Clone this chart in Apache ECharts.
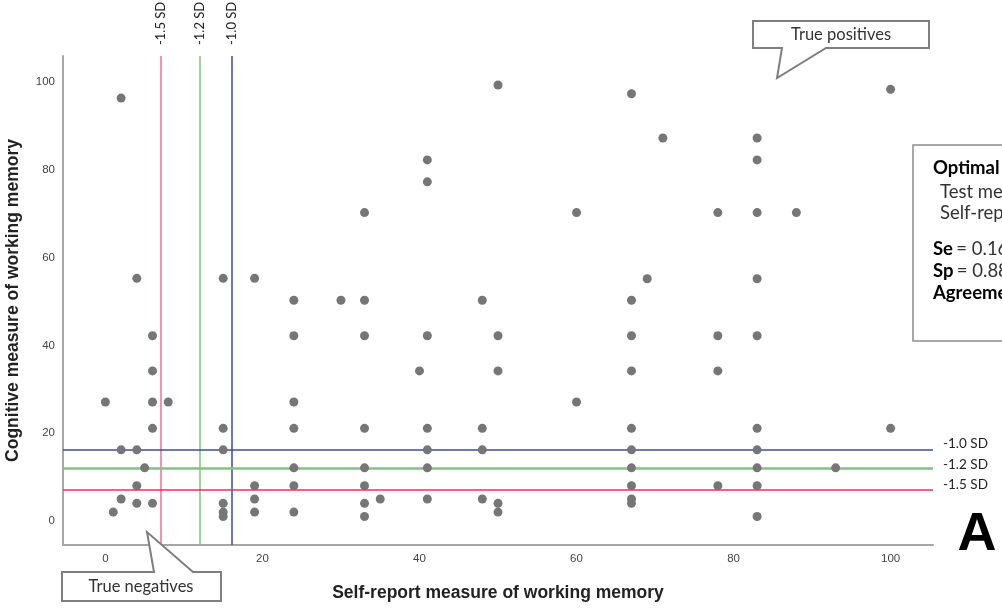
<!DOCTYPE html>
<html>
<head>
<meta charset="utf-8">
<script src="https://cdn.jsdelivr.net/npm/echarts@6/dist/echarts.min.js"></script>
<style>
  html, body { margin: 0; padding: 0; background: #fff; }
  #chart { width: 1002px; height: 608px; }
</style>
</head>
<body>
<div id="chart"></div>
<script>
// self-report (x) and cognitive (y) scores
const selfReport = [
  2, 4, 15, 19, 24, 30, 6, 24, 6, 0, 6, 8, 24, 6, 15, 24, 2, 4, 15, 5, 24, 4, 19, 24,
  2, 4, 6, 15, 19, 1, 15, 15, 19, 24,
  50, 67, 41, 41, 33, 60, 69, 33, 48, 67, 33, 41, 50, 67, 40, 50, 67, 60, 33, 41, 48, 67,
  41, 48, 67, 33, 41, 67, 33, 67, 33, 35, 41, 48, 50, 50, 67, 67, 33,
  100, 71, 83, 83, 78, 83, 88, 83, 78, 83, 78, 83, 100, 83, 83, 93, 78, 83, 83
];
const cognitive = [
  96.4, 55.3, 55.3, 55.3, 50.3, 50.3, 42.2, 42.2, 34.2, 27.1, 27.1, 27.1, 27.1, 21.1, 21.1, 21.1, 16.2, 16.2, 16.2, 12.1, 12.1, 8.0, 8.0, 8.0,
  5.0, 4.0, 4.0, 4.0, 5.0, 2.0, 2.0, 1.0, 2.0, 2.0,
  99.4, 97.4, 82.3, 77.3, 70.3, 70.3, 55.2, 50.3, 50.3, 50.3, 42.2, 42.2, 42.2, 42.2, 34.2, 34.2, 34.2, 27.1, 21.1, 21.1, 21.1, 21.1,
  16.2, 16.2, 16.2, 12.1, 12.1, 12.1, 8.0, 8.0, 4.0, 5.0, 5.0, 5.0, 4.0, 2.0, 5.0, 4.0, 1.0,
  98.4, 87.3, 87.3, 82.3, 70.3, 70.3, 70.3, 55.2, 42.2, 42.2, 34.2, 21.1, 21.1, 16.2, 12.1, 12.1, 8.0, 8.0, 1.0
];

// cut-off lines
const cutLabels = ['-1.5 SD', '-1.2 SD', '-1.0 SD'];
const cutColors = ['#e8305a', '#84c184', '#3a4d9c'];
const xCuts = [7.1, 12.0, 16.1];
const yCuts = [7.1, 12.1, 16.2];
// where the right-hand SD labels sit (spread apart a little in the original)
const yCutLabelPos = [8.2, 12.8, 17.5];

const xTicks = [0, 20, 40, 60, 80, 100];
const yTicks = [0, 20, 40, 60, 80, 100];

const points = selfReport.map((x, i) => [x, cognitive[i]]);

const chart = echarts.init(document.getElementById('chart'));

const tickFont = { fontFamily: 'Liberation Sans', fontSize: 11.5, color: '#444' };
const titleFont = { fontFamily: 'Liberation Sans', fontSize: 17.5, fontWeight: 'bold', color: '#222' };
const noteFont = 'Lato';
const boxSize = 18.5;

const markData = [];
xCuts.forEach((v, i) => {
  markData.push({ xAxis: v, lineStyle: { type: 'solid', color: i === 0 ? '#ef7090' : cutColors[i], width: 1.5 } });
});
yCuts.forEach((v, i) => {
  markData.push({ yAxis: v, lineStyle: { type: 'solid', color: cutColors[i], width: i === 1 ? 2.5 : 1.5 } });
});

const rich = {
  b: { fontFamily: noteFont, fontSize: boxSize, fontWeight: 'bold', fill: '#000' },
  n: { fontFamily: noteFont, fontSize: boxSize, fill: '#333' }
};

chart.setOption({
  animation: false,
  grid: { left: 63, right: 69, top: 56, bottom: 63, outerBoundsMode: 'none', containLabel: false },
  xAxis: [{
    type: 'value',
    min: -5.4,
    max: 105.4,
    name: 'Self-report measure of working memory',
    nameLocation: 'middle',
    nameGap: 39,
    nameTextStyle: titleFont,
    splitLine: { show: false },
    axisTick: { show: false },
    axisLine: { show: true, onZero: false, lineStyle: { color: '#a6a6a6', width: 2 } },
    axisLabel: { customValues: xTicks, margin: 8, ...tickFont }
  }, {
    type: 'value',
    position: 'top',
    min: -5.4,
    max: 105.4,
    splitLine: { show: false },
    axisTick: { show: false },
    axisLine: { show: false },
    axisLabel: {
      customValues: xCuts,
      rotate: 90,
      margin: 11,
      fontFamily: noteFont,
      fontSize: 13,
      color: '#222',
      formatter: v => cutLabels[xCuts.indexOf(v)]
    }
  }],
  yAxis: [{
    type: 'value',
    min: -5.5,
    max: 106,
    name: 'Cognitive measure of working memory',
    nameLocation: 'middle',
    nameGap: 41,
    nameTextStyle: titleFont,
    splitLine: { show: false },
    axisTick: { show: false },
    axisLine: { show: true, onZero: false, lineStyle: { color: '#a6a6a6', width: 2 } },
    axisLabel: { customValues: yTicks, margin: 8, ...tickFont }
  }, {
    type: 'value',
    position: 'right',
    min: -5.5,
    max: 106,
    splitLine: { show: false },
    axisTick: { show: false },
    axisLine: { show: false },
    axisLabel: {
      customValues: yCutLabelPos,
      margin: 10,
      fontFamily: noteFont,
      fontSize: 13.5,
      color: '#222',
      formatter: v => cutLabels[yCutLabelPos.indexOf(v)]
    }
  }],
  series: [{
    type: 'scatter',
    xAxisIndex: 0,
    yAxisIndex: 0,
    data: points,
    symbolSize: 9,
    itemStyle: { color: '#767676', opacity: 1 },
    z: 3,
    markLine: {
      silent: true,
      symbol: ['none', 'none'],
      label: { show: false },
      emphasis: { disabled: true },
      data: markData,
      z: 2
    }
  }],
  graphic: [
    // true positives callout
    {
      type: 'polygon',
      shape: { points: [[753, 21], [929, 21], [929, 48], [826, 48], [777, 78], [782, 48], [753, 48]] },
      style: { fill: '#fff', stroke: '#7f7f7f', lineWidth: 2 },
      z: 10
    },
    {
      type: 'text', x: 841, y: 35, z: 11,
      style: { text: 'True positives', fontFamily: noteFont, fontSize: 16.5, fill: '#333', align: 'center', verticalAlign: 'middle' }
    },
    // true negatives callout
    {
      type: 'polygon',
      shape: { points: [[62, 572], [154, 572], [147, 532], [193, 572], [221, 572], [221, 601], [62, 601]] },
      style: { fill: '#fff', stroke: '#7f7f7f', lineWidth: 2 },
      z: 10
    },
    {
      type: 'text', x: 141, y: 587, z: 11,
      style: { text: 'True negatives', fontFamily: noteFont, fontSize: 16.5, fill: '#333', align: 'center', verticalAlign: 'middle' }
    },
    // summary box (runs off the right edge)
    {
      type: 'rect',
      shape: { x: 913, y: 145, width: 140, height: 196 },
      style: { fill: '#fff', stroke: '#8c8c8c', lineWidth: 1.5 },
      z: 10
    },
    {
      type: 'text', x: 933, y: 168, z: 11,
      style: { text: '{b|Optimal cut-off}', rich, verticalAlign: 'middle' }
    },
    {
      type: 'text', x: 940, y: 192, z: 11,
      style: { text: 'Test measure: -1.0 SD', fontFamily: noteFont, fontSize: boxSize, fill: '#333', verticalAlign: 'middle' }
    },
    {
      type: 'text', x: 940, y: 213, z: 11,
      style: { text: 'Self-report: -1.0 SD', fontFamily: noteFont, fontSize: boxSize, fill: '#333', verticalAlign: 'middle' }
    },
    {
      type: 'text', x: 933, y: 249, z: 11,
      style: { text: '{b|Se} {n|= 0.16}', rich, verticalAlign: 'middle' }
    },
    {
      type: 'text', x: 933, y: 271, z: 11,
      style: { text: '{b|Sp} {n|= 0.88}', rich, verticalAlign: 'middle' }
    },
    {
      type: 'text', x: 933, y: 293, z: 11,
      style: { text: '{b|Agreement} {n|= 0.54}', rich, verticalAlign: 'middle' }
    },
    // panel letter
    {
      type: 'text', x: 977, y: 535, z: 11,
      style: { text: 'A', fontFamily: 'Liberation Sans', fontSize: 54, fontWeight: 'bold', fill: '#000', align: 'center', verticalAlign: 'middle' }
    }
  ]
});
</script>
</body>
</html>
